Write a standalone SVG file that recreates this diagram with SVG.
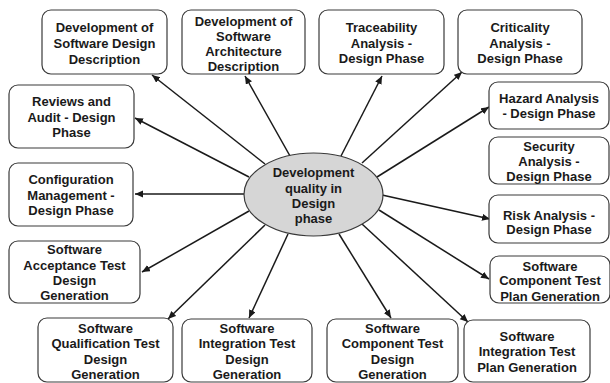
<svg xmlns="http://www.w3.org/2000/svg" width="610" height="383" viewBox="0 0 610 383">
  <style>
    .box { fill: #ffffff; stroke: #3a3a3a; stroke-width: 1.2; }
    .hub { fill: #d6d6d6; stroke: #3a3a3a; stroke-width: 1.2; }
    .lbl { font-family: "Liberation Sans", Arial, sans-serif; font-size: 13px; font-weight: bold; fill: #1a1a1a; text-anchor: middle; }
    .link { stroke: #1a1a1a; stroke-width: 1.5; fill: none; }
  </style>
  <defs>
    <marker id="arrow" markerUnits="userSpaceOnUse" markerWidth="9" markerHeight="8" refX="8" refY="3.5" orient="auto">
      <path d="M0,0 L8,3.5 L0,7 z" fill="#1a1a1a"/>
    </marker>
  </defs>
  <rect width="610" height="383" fill="#ffffff"/>

  <!-- connectors from the central node -->
  <g id="connectors">
    <line class="link" x1="265" y1="164" x2="152" y2="75" marker-end="url(#arrow)"/>
    <line class="link" x1="290" y1="156" x2="245" y2="76" marker-end="url(#arrow)"/>
    <line class="link" x1="341" y1="156" x2="382" y2="76" marker-end="url(#arrow)"/>
    <line class="link" x1="362" y1="163" x2="462" y2="72" marker-end="url(#arrow)"/>
    <line class="link" x1="377" y1="177" x2="489" y2="107" marker-end="url(#arrow)"/>
    <line class="link" x1="382" y1="195" x2="490" y2="219" marker-end="url(#arrow)"/>
    <line class="link" x1="379" y1="210" x2="489" y2="279" marker-end="url(#arrow)"/>
    <line class="link" x1="362" y1="224" x2="468" y2="322" marker-end="url(#arrow)"/>
    <line class="link" x1="339" y1="234" x2="391" y2="318" marker-end="url(#arrow)"/>
    <line class="link" x1="288" y1="234" x2="249" y2="318" marker-end="url(#arrow)"/>
    <line class="link" x1="265" y1="225" x2="168" y2="319" marker-end="url(#arrow)"/>
    <line class="link" x1="249" y1="211" x2="142" y2="272" marker-end="url(#arrow)"/>
    <line class="link" x1="244" y1="194" x2="135" y2="194" marker-end="url(#arrow)"/>
    <line class="link" x1="249" y1="177" x2="135" y2="118" marker-end="url(#arrow)"/>
  </g>

  <g id="hub">
    <ellipse class="hub" cx="313.5" cy="194.5" rx="69.5" ry="41.5"/>
    <text class="lbl" x="313.5" y="176.5">Development</text>
    <text class="lbl" x="313.5" y="192.5">quality in</text>
    <text class="lbl" x="313.5" y="207.5">Design</text>
    <text class="lbl" x="313.5" y="222.5">phase</text>
  </g>

  <g id="design-description">
    <rect class="box" x="42" y="10" width="125" height="64" rx="9"/>
    <text class="lbl" x="104.5" y="32">Development of</text>
    <text class="lbl" x="104.5" y="48">Software Design</text>
    <text class="lbl" x="104.5" y="64">Description</text>
  </g>

  <g id="architecture-description">
    <rect class="box" x="182" y="10" width="123" height="64" rx="9"/>
    <text class="lbl" x="243.5" y="25.5">Development of</text>
    <text class="lbl" x="243.5" y="40.5">Software</text>
    <text class="lbl" x="243.5" y="55.5">Architecture</text>
    <text class="lbl" x="243.5" y="70.5">Description</text>
  </g>

  <g id="traceability">
    <rect class="box" x="319" y="10" width="125" height="64" rx="9"/>
    <text class="lbl" x="381.5" y="31.5">Traceability</text>
    <text class="lbl" x="381.5" y="47.5">Analysis -</text>
    <text class="lbl" x="381.5" y="62.5">Design Phase</text>
  </g>

  <g id="criticality">
    <rect class="box" x="458" y="10" width="124" height="64" rx="9"/>
    <text class="lbl" x="520" y="31.5">Criticality</text>
    <text class="lbl" x="520" y="47.5">Analysis -</text>
    <text class="lbl" x="520" y="62.5">Design Phase</text>
  </g>

  <g id="hazard">
    <rect class="box" x="489" y="82" width="120" height="47" rx="9"/>
    <text class="lbl" x="549" y="102.5">Hazard Analysis</text>
    <text class="lbl" x="549" y="117.5">- Design Phase</text>
  </g>

  <g id="security">
    <rect class="box" x="489" y="137" width="120" height="47" rx="9"/>
    <text class="lbl" x="549" y="150.5">Security</text>
    <text class="lbl" x="549" y="165.5">Analysis -</text>
    <text class="lbl" x="549" y="181">Design Phase</text>
  </g>

  <g id="risk">
    <rect class="box" x="489" y="195" width="120" height="48" rx="9"/>
    <text class="lbl" x="549" y="219.5">Risk Analysis -</text>
    <text class="lbl" x="549" y="234">Design Phase</text>
  </g>

  <g id="component-test-plan">
    <rect class="box" x="490" y="256" width="120" height="47" rx="9"/>
    <text class="lbl" x="550" y="270.5">Software</text>
    <text class="lbl" x="550" y="285">Component Test</text>
    <text class="lbl" x="550" y="300.5">Plan Generation</text>
  </g>

  <g id="integration-test-plan">
    <rect class="box" x="464" y="320" width="126" height="62" rx="9"/>
    <text class="lbl" x="527" y="340.5">Software</text>
    <text class="lbl" x="527" y="356">Integration Test</text>
    <text class="lbl" x="527" y="371.5">Plan Generation</text>
  </g>

  <g id="component-test-design">
    <rect class="box" x="327" y="319" width="131" height="63" rx="9"/>
    <text class="lbl" x="392.5" y="332.5">Software</text>
    <text class="lbl" x="392.5" y="347.5">Component Test</text>
    <text class="lbl" x="392.5" y="363.5">Design</text>
    <text class="lbl" x="392.5" y="378.5">Generation</text>
  </g>

  <g id="integration-test-design">
    <rect class="box" x="182" y="319" width="130" height="63" rx="9"/>
    <text class="lbl" x="247" y="332.5">Software</text>
    <text class="lbl" x="247" y="347.5">Integration Test</text>
    <text class="lbl" x="247" y="363.5">Design</text>
    <text class="lbl" x="247" y="378.5">Generation</text>
  </g>

  <g id="qualification-test-design">
    <rect class="box" x="38" y="318" width="135" height="64" rx="9"/>
    <text class="lbl" x="105.5" y="332.5">Software</text>
    <text class="lbl" x="105.5" y="347.5">Qualification Test</text>
    <text class="lbl" x="105.5" y="363.5">Design</text>
    <text class="lbl" x="105.5" y="378.5">Generation</text>
  </g>

  <g id="acceptance-test-design">
    <rect class="box" x="9" y="241" width="131" height="62" rx="9"/>
    <text class="lbl" x="74.5" y="253.5">Software</text>
    <text class="lbl" x="74.5" y="269.5">Acceptance Test</text>
    <text class="lbl" x="74.5" y="285">Design</text>
    <text class="lbl" x="74.5" y="300">Generation</text>
  </g>

  <g id="configuration-management">
    <rect class="box" x="9" y="163" width="124" height="63" rx="9"/>
    <text class="lbl" x="71" y="183.5">Configuration</text>
    <text class="lbl" x="71" y="199.5">Management -</text>
    <text class="lbl" x="71" y="214.5">Design Phase</text>
  </g>

  <g id="reviews-audit">
    <rect class="box" x="9" y="85" width="125" height="63" rx="9"/>
    <text class="lbl" x="71.5" y="106">Reviews and</text>
    <text class="lbl" x="71.5" y="121.5">Audit - Design</text>
    <text class="lbl" x="71.5" y="137">Phase</text>
  </g>
</svg>
